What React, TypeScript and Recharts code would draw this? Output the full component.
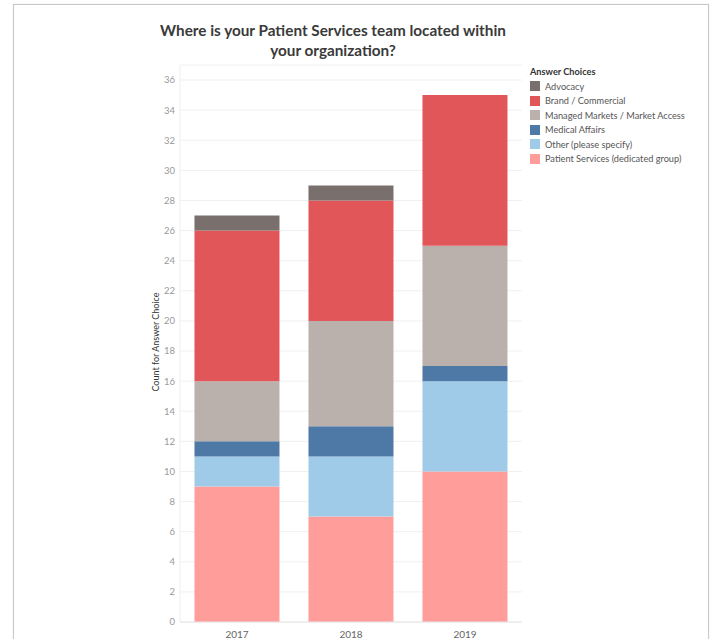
import { BarChart, Bar, XAxis, YAxis, CartesianGrid } from "recharts";

const years = ["2017", "2018", "2019"];
const patientServices = [9, 7, 10];
const other = [2, 4, 6];
const medicalAffairs = [1, 2, 1];
const managedMarkets = [4, 7, 8];
const brandCommercial = [10, 8, 10];
const advocacy = [1, 1, 0];
const yTicks = [0, 2, 4, 6, 8, 10, 12, 14, 16, 18, 20, 22, 24, 26, 28, 30, 32, 34, 36];

// stacked bottom to top
const series = [
  { key: "ps", name: "Patient Services (dedicated group)", color: "#FF9D9A", values: patientServices },
  { key: "other", name: "Other (please specify)", color: "#A0CBE8", values: other },
  { key: "med", name: "Medical Affairs", color: "#4E79A7", values: medicalAffairs },
  { key: "mm", name: "Managed Markets / Market Access", color: "#BAB0AC", values: managedMarkets },
  { key: "brand", name: "Brand / Commercial", color: "#E15759", values: brandCommercial },
  { key: "adv", name: "Advocacy", color: "#79706E", values: advocacy },
];

const data = years.map((year, i) => {
  const row: Record<string, string | number> = { year };
  series.forEach((s) => (row[s.key] = s.values[i]));
  return row;
});

const font = "Lato, 'Open Sans', sans-serif";

export default function App() {
  return (
    <div
      style={{
        position: "absolute",
        left: 0,
        top: 0,
        width: 711,
        height: 639,
        background: "#fff",
        fontFamily: font,
        overflow: "hidden",
      }}
    >
      <div
        style={{
          position: "absolute",
          left: 13,
          top: 4,
          width: 694,
          height: 660,
          border: "1px solid #c8c8c8",
          boxShadow: "0 0 1px #ddd",
        }}
      />
      <div
        style={{
          position: "absolute",
          left: 100,
          top: 20,
          width: 466,
          textAlign: "center",
          fontSize: 15.3,
          fontWeight: 700,
          color: "#3a3a3a",
          lineHeight: "20px",
        }}
      >
        Where is your Patient Services team located within
        <br />
        your organization?
      </div>

      <div style={{ position: "absolute", left: 0, top: 0 }}>
        <BarChart
          width={711}
          height={639}
          data={data}
          margin={{ top: 65, right: 189, bottom: 0, left: 0 }}
          barCategoryGap="12.7%"
        >
          <CartesianGrid vertical={false} stroke="#f0f0f0" />
          <XAxis
            dataKey="year"
            height={17}
            tickLine={false}
            tickSize={0}
            axisLine={{ stroke: "#e6e6e6" }}
            tick={{ fontSize: 10, fill: "#666", fontFamily: font }}
            tickMargin={9}
            interval={0}
          />
          <YAxis
            width={180}
            domain={[0, 37]}
            ticks={yTicks}
            interval={0}
            tickLine={false}
            tickSize={0}
            axisLine={{ stroke: "#eeeeee" }}
            tick={{ fontSize: 9.5, fill: "#999", fontFamily: font }}
            tickMargin={5}
          />
          {series.map((s) => (
            <Bar
              key={s.key}
              dataKey={s.key}
              name={s.name}
              stackId="a"
              fill={s.color}
              isAnimationActive={false}
            />
          ))}
          <text
            x={155}
            y={342}
            transform="rotate(-90 155 342)"
            textAnchor="middle"
            dominantBaseline="central"
            fontSize={9}
            fill="#333"
            fontFamily={font}
          >
            Count for Answer Choice
          </text>
        </BarChart>
      </div>

      <div style={{ position: "absolute", left: 530, top: 66, fontSize: 9.2, color: "#555" }}>
        <div style={{ fontWeight: 700, color: "#333", marginBottom: 2 }}>Answer Choices</div>
        {[...series].reverse().map((s) => (
          <div key={s.key} style={{ display: "flex", alignItems: "center", height: 14.5 }}>
            <span
              style={{ width: 10, height: 10, background: s.color, display: "inline-block", marginRight: 5 }}
            />
            {s.name}
          </div>
        ))}
      </div>
    </div>
  );
}
